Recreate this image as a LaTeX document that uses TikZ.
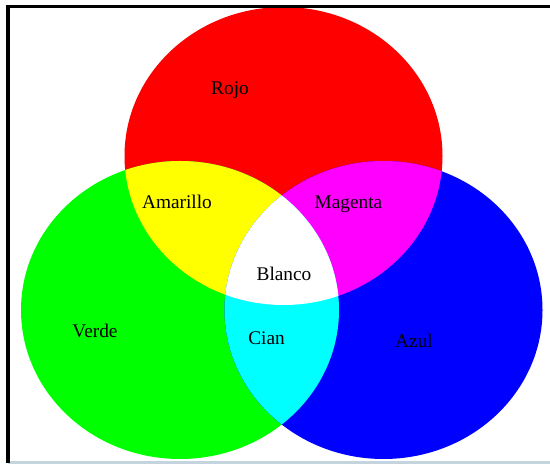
\documentclass[tikz,border=0pt]{standalone}
\usepackage{fontspec}
\setmainfont{Liberation Serif}
\usetikzlibrary{positioning}

\definecolor{edgegray}{RGB}{195,212,222}
\definecolor{rojo}{RGB}{255,0,0}
\definecolor{verde}{RGB}{0,255,0}
\definecolor{azul}{RGB}{0,0,255}
\definecolor{amarillo}{RGB}{255,255,0}
\definecolor{magentapuro}{RGB}{255,0,255}
\definecolor{cianpuro}{RGB}{0,255,255}

\begin{document}
\begin{tikzpicture}[
			disc/.style={
				x radius=3.18cm,
				y radius=2.98cm
			},
			every node/.style={
				inner sep=0pt,
				align=center,
				font=\fontsize{11}{13}\selectfont
			}
			]
			
			\useasboundingbox (0,0) rectangle (11,9.3);
			
			%%%%%%%%%%%%%%%%%%%%%%%%%%%%%%%%%%%%%%%%%%%%%%%%%%%%%%
			% Centres
			%%%%%%%%%%%%%%%%%%%%%%%%%%%%%%%%%%%%%%%%%%%%%%%%%%%%%%
			
			\coordinate (cRojo) at (5.67,6.18);
			\coordinate (cVerde) at (3.60,3.10);
			\coordinate (cAzul) at (7.67,3.10);
			
			%%%%%%%%%%%%%%%%%%%%%%%%%%%%%%%%%%%%%%%%%%%%%%%%%%%%%%
			% Primary discs
			%%%%%%%%%%%%%%%%%%%%%%%%%%%%%%%%%%%%%%%%%%%%%%%%%%%%%%
			
			\fill[rojo] (cRojo) ellipse [disc];
			\fill[verde] (cVerde) ellipse [disc];
			\fill[azul] (cAzul) ellipse [disc];
			
			%%%%%%%%%%%%%%%%%%%%%%%%%%%%%%%%%%%%%%%%%%%%%%%%%%%%%%
			% Overlaps
			%%%%%%%%%%%%%%%%%%%%%%%%%%%%%%%%%%%%%%%%%%%%%%%%%%%%%%
			
			\begin{scope}
				\clip (cRojo) ellipse [disc];
				\fill[amarillo] (cVerde) ellipse [disc];
				\fill[magentapuro] (cAzul) ellipse [disc];
			\end{scope}
			
			\begin{scope}
				\clip (cVerde) ellipse [disc];
				\fill[cianpuro] (cAzul) ellipse [disc];
			\end{scope}
			
			\begin{scope}
				\clip (cRojo) ellipse [disc];
				\clip (cVerde) ellipse [disc];
				\fill[white] (cAzul) ellipse [disc];
			\end{scope}
			
			%%%%%%%%%%%%%%%%%%%%%%%%%%%%%%%%%%%%%%%%%%%%%%%%%%%%%%
			% Labels
			%%%%%%%%%%%%%%%%%%%%%%%%%%%%%%%%%%%%%%%%%%%%%%%%%%%%%%
			
			\node (rojo) at (4.60,7.50) {Rojo};
			\node (amarillo) at (3.54,5.27) {Amarillo};
			\node (magenta) at (6.97,5.22) {Magenta};
			\node (blanco) at (5.68,3.83) {Blanco};
			\node (verde) at (1.90,2.68) {Verde};
			\node (cian) at (5.33,2.54) {Cian};
			\node (azul) at (8.28,2.48) {Azul};
			
			%%%%%%%%%%%%%%%%%%%%%%%%%%%%%%%%%%%%%%%%%%%%%%%%%%%%%%
			% Frame
			%%%%%%%%%%%%%%%%%%%%%%%%%%%%%%%%%%%%%%%%%%%%%%%%%%%%%%
			
			\draw[edgegray,line width=1.5pt]
			(0.16,0.05) -- (11,0.05);
			
			\draw[black,line width=2pt]
			(0.16,0.03) -- (0.16,9.17) -- (11,9.17);
			
			%%%%%%%%%%%%%%%%%%%%%%%%%%%%%%%%%%%%%%%%%%%%%%%%%%%%%%
			
		\end{tikzpicture}
\end{document}
